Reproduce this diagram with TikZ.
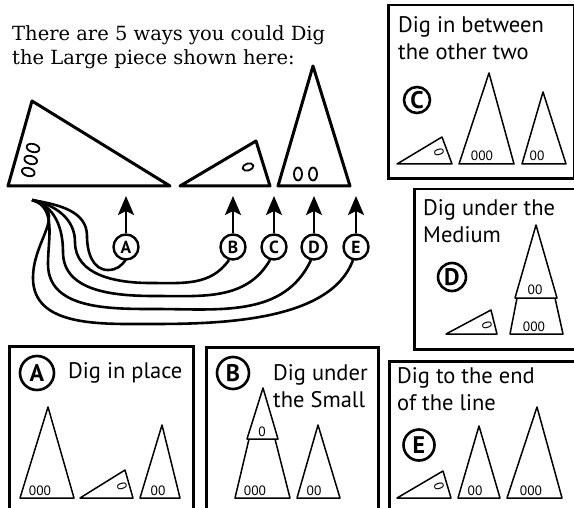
\documentclass[tikz,border=0pt]{standalone}
\usepackage{fontspec}
\setmainfont{DejaVu Serif}
\setsansfont{PT Sans}
\usetikzlibrary{arrows.meta,positioning}

\begin{document}
\begin{tikzpicture}[
  x=1bp, y=1bp,
  piece/.style={draw, line width=3bp, line join=round, fill=white},
  minipiece/.style={draw, line width=1.5bp, line join=round, fill=white},
  pip/.style={draw, line width=1.8bp},
  pips/.style={font=\sffamily\fontsize{13.5bp}{13.5bp}\selectfont, inner sep=0},
  panel/.style={draw, line width=2.5bp, anchor=north west, inner sep=0},
  caption/.style={font=\sffamily\fontsize{22.5bp}{27bp}\selectfont, align=left, inner sep=0},
  badge/.style={circle, draw, line width=2.4bp, fill=white, inner sep=0,
    minimum size=25bp, font=\sffamily\bfseries\fontsize{17.5bp}{17.5bp}\selectfont},
  bigbadge/.style={badge, line width=2.6bp,
    font=\sffamily\bfseries\fontsize{24bp}{24bp}\selectfont},
  link/.style={line width=2.6bp},
  pointer/.style={line width=2.6bp, -{Stealth[length=19bp, width=16bp, inset=4bp]}}
]
  \path[use as bounding box, fill=white] (0,0) rectangle (574,-508);
  \clip (0,0) rectangle (574,-508);

  % intro text
  \node[anchor=north west, align=left, inner sep=0,
    font=\fontsize{19.5bp}{24bp}\selectfont] (intro) at (12,-25)
    {There are 5 ways you could Dig\\the Large piece shown here:};

  % the three pieces
  \draw[piece] (8,-186) -- (32,-101) -- (170,-186) -- cycle;
  \draw[pip, shift={(33,-148)}, rotate=-16] (0,0) ellipse (6.5 and 4);
  \draw[pip, shift={(30.7,-160)}, rotate=-16] (0,0) ellipse (6.5 and 4);
  \draw[pip, shift={(28.3,-172)}, rotate=-16] (0,0) ellipse (6.5 and 4);

  \draw[piece] (180,-186) -- (256,-141) -- (270,-186) -- cycle;
  \draw[pip, shift={(248,-167)}, rotate=17] (0,0) ellipse (5.5 and 3.5);

  \draw[piece] (278,-186) -- (313,-66) -- (350,-186) -- cycle;
  \draw[pip] (298,-174) ellipse (4 and 6.5);
  \draw[pip] (313,-174) ellipse (4 and 6.5);

  % choices
  \coordinate (src) at (32,-200);
  \draw[link] (src) to[out=-10,in=90] (87,-236) to[out=-90,in=180] (108,-270)
    to[out=0,in=240] (126,-259);
  \draw[link] (src) to[out=-12,in=90] (75,-242) to[out=-90,in=180] (150,-283)
    to[out=0,in=235] (229,-260);
  \draw[link] (src) to[out=-14,in=90] (63,-252) to[out=-90,in=180] (155,-296)
    to[out=0,in=240] (270,-260);
  \draw[link] (src) to[out=-16,in=90] (48,-264) to[out=-90,in=180] (155,-309)
    to[out=0,in=245] (311,-260);
  \draw[link] (src) to[out=-18,in=90, looseness=1.3] (33,-278) to[out=-90,in=180] (150,-324)
    to[out=0,in=250, looseness=0.8] (353,-260);

  \foreach \n/\x in {A/126,B/233,C/274,D/314,E/356} {
    \node[badge] (\n) at (\x,-247) {\n};
    \coordinate (tip\n) at (\x,-196);
    \draw[pointer] (\n) -- (tip\n);
  }

  % panel C
  \node[panel, minimum width=186bp, minimum height=173bp] (panelC) at (387,-4) {};
  \node[caption, anchor=north west] (capC) at (398,-16) {Dig in between\\the other two};
  \node[bigbadge, minimum size=26bp] (badgeC) at (417,-100) {C};
  \draw[minipiece] (397,-164) -- (442,-137) -- (452,-164) -- cycle;
  \node[pips, rotate=107] (pC1) at (439,-152) {0};
  \draw[minipiece] (459,-164) -- (489,-73) -- (514,-164) -- cycle;
  \node[pips] (pC3) at (482,-156) {000};
  \draw[minipiece] (522,-164) -- (543,-92) -- (566,-164) -- cycle;
  \node[pips] (pC2) at (537,-156) {00};

  % panel D
  \node[panel, minimum width=190bp, minimum height=160bp] (panelD) at (413,-188) {};
  \node[caption, anchor=north west] (capD) at (423,-199) {Dig under the\\Medium};
  \node[bigbadge, minimum size=28bp] (badgeD) at (452,-277) {D};
  \draw[minipiece] (446,-334) -- (491,-310) -- (497,-334) -- cycle;
  \node[pips, rotate=107] (pD1) at (487,-325) {0};
  \draw[minipiece] (517,-298) -- (510,-334) -- (563,-334) -- (555,-298) -- cycle;
  \node[pips] (pD3) at (534,-327) {000};
  \draw[minipiece] (515,-298) -- (536,-225) -- (557,-298) -- cycle;
  \node[pips] (pD2) at (535,-290) {00};

  % panel A
  \node[panel, minimum width=184bp, minimum height=180bp] (panelA) at (8,-345) {};
  \node[bigbadge, minimum size=34bp] (badgeA) at (37,-373) {A};
  \node[caption, anchor=base west] (capA) at (68,-378) {Dig in place};
  \draw[minipiece] (20,-498) -- (48,-407) -- (74,-498) -- cycle;
  \node[pips] (pA3) at (40,-491) {000};
  \draw[minipiece] (80,-498) -- (125,-470) -- (133,-498) -- cycle;
  \node[pips, rotate=107] (pA1) at (122,-486) {0};
  \draw[minipiece] (140,-498) -- (162,-425) -- (180,-498) -- cycle;
  \node[pips] (pA2) at (158,-491) {00};

  % panel B
  \node[panel, minimum width=172bp, minimum height=180bp] (panelB) at (205,-346) {};
  \node[bigbadge, minimum size=32bp] (badgeB) at (233,-373) {B};
  \node[caption, anchor=north west] (capB) at (273,-364) {Dig under\\the Small};
  \draw[minipiece] (249,-439) -- (235,-498) -- (290,-498) -- (275,-439) -- cycle;
  \node[pips] (pB3) at (255,-491) {000};
  \draw[minipiece] (247,-439) -- (263,-388) -- (278,-439) -- cycle;
  \node[pips] (pB1) at (262,-432) {0};
  \draw[minipiece] (297,-498) -- (318,-425) -- (340,-498) -- cycle;
  \node[pips] (pB2) at (314,-491) {00};

  % panel E
  \node[panel, minimum width=200bp, minimum height=170bp] (panelE) at (388,-360) {};
  \node[caption, anchor=north west] (capE) at (397,-367) {Dig to the end\\of the line};
  \node[bigbadge, minimum size=31bp] (badgeE) at (419,-445) {E};
  \draw[minipiece] (397,-498) -- (443,-471) -- (451,-498) -- cycle;
  \node[pips, rotate=107] (pE1) at (439,-486) {0};
  \draw[minipiece] (458,-498) -- (479,-426) -- (500,-498) -- cycle;
  \node[pips] (pE2) at (475,-491) {00};
  \draw[minipiece] (507,-498) -- (537,-407) -- (562,-498) -- cycle;
  \node[pips] (pE3) at (531,-491) {000};
\end{tikzpicture}
\end{document}
